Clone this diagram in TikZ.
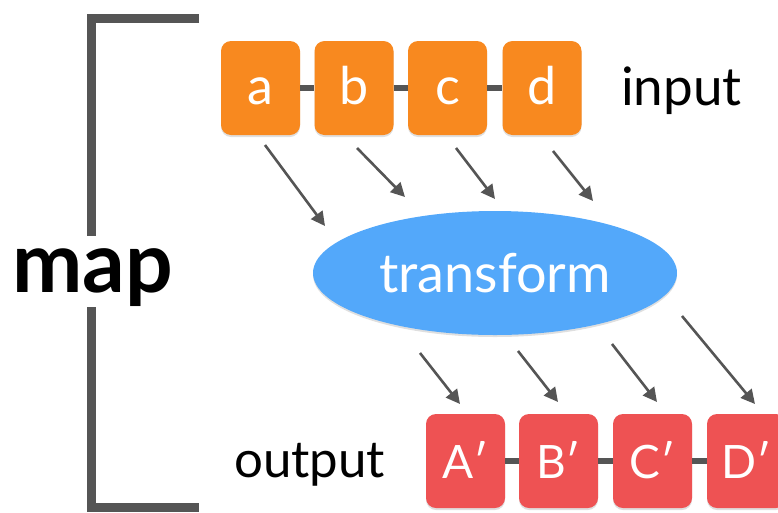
\documentclass[tikz,border=0pt]{standalone}
\usepackage{fontspec}
\setmainfont{Lato}
\usetikzlibrary{shapes.geometric,arrows.meta,shadows}
\definecolor{orangebox}{HTML}{F8891F}
\definecolor{redbox}{HTML}{EE5253}
\definecolor{bluell}{HTML}{53A8FA}
\definecolor{darkg}{HTML}{555555}
\begin{document}
\begin{tikzpicture}[x=1pt,y=-1pt,
  boxbase/.style={rounded corners=10pt, minimum width=79pt, minimum height=94pt, inner sep=0pt, text=white,
     drop shadow={shadow xshift=0pt, shadow yshift=-2pt, opacity=0.25}},
  inbox/.style={boxbase, fill=orangebox, font=\fontsize{52}{52}\selectfont, text height=32pt, text depth=0pt},
  outbox/.style={boxbase, fill=redbox, font=\fontsize{46}{46}\selectfont, text height=34pt, text depth=0pt},
  link/.style={draw=darkg, line width=6pt},
  flow/.style={draw=darkg, line width=2.6pt, -{Triangle[length=14pt,width=14pt]}},
  brack/.style={draw=darkg, line width=9pt, line join=miter},
  lbl/.style={anchor=base west, inner sep=0pt, text=black}
]
\useasboundingbox (0,0) rectangle (778,512);
\clip (0,0) rectangle (778,512);
% bracket
\coordinate (bt1) at (199,18);
\coordinate (bt2) at (91,18);
\coordinate (bt3) at (91,236);
\coordinate (bb1) at (91,307);
\coordinate (bb2) at (91,507);
\coordinate (bb3) at (199,507);
\draw[brack] (bt1) -- (bt2) -- (bt3);
\draw[brack] (bb1) -- (bb2) -- (bb3);
\node[lbl, font=\fontsize{84}{84}\selectfont\bfseries] (map) at (12,292) {map};

% input boxes
\node[inbox] (a) at (260.5,88) {a};
\node[inbox] (b) at (354,88) {b};
\node[inbox] (c) at (447.5,88) {c};
\node[inbox] (d) at (542,88) {d};
\node[lbl, font=\fontsize{53}{53}\selectfont] (input) at (621,105) {input};

% transform
\node[ellipse, fill=bluell, minimum width=364pt, minimum height=124pt, inner sep=0pt, text=white,
  font=\fontsize{54}{54}\selectfont, text height=38pt, text depth=0pt,
  drop shadow={shadow xshift=0pt, shadow yshift=-2pt, opacity=0.25}] (tr) at (495,273) {transform};

% output boxes
\node[outbox] (A) at (465.5,461) {A\char"2032};
\node[outbox] (B) at (558.5,461) {B\char"2032};
\node[outbox] (C) at (652.5,461) {C\char"2032};
\node[outbox] (D) at (746.5,461) {D\char"2032};
\node[lbl, font=\fontsize{51}{51}\selectfont] (output) at (234,477) {output};

% arrows top
\coordinate (a1) at (265,145); \coordinate (a2) at (325,226);
\coordinate (b1) at (357,148); \coordinate (b2) at (405,197);
\coordinate (c1) at (456,148); \coordinate (c2) at (495,199);
\coordinate (d1) at (553,151); \coordinate (d2) at (593,201);
\draw[flow] (a1) -- (a2);
\draw[flow] (b1) -- (b2);
\draw[flow] (c1) -- (c2);
\draw[flow] (d1) -- (d2);
% arrows bottom
\coordinate (e1) at (420,353); \coordinate (e2) at (460,404);
\coordinate (f1) at (518,351); \coordinate (f2) at (558,402);
\coordinate (g1) at (612,344); \coordinate (g2) at (657,402);
\coordinate (h1) at (682,316); \coordinate (h2) at (755,404);
\draw[flow] (e1) -- (e2);
\draw[flow] (f1) -- (f2);
\draw[flow] (g1) -- (g2);
\draw[flow] (h1) -- (h2);
% links between boxes
\draw[link] (a.east) -- (b.west);
\draw[link] (b.east) -- (c.west);
\draw[link] (c.east) -- (d.west);
\draw[link] (A.east) -- (B.west);
\draw[link] (B.east) -- (C.west);
\draw[link] (C.east) -- (D.west);
\end{tikzpicture}
\end{document}
